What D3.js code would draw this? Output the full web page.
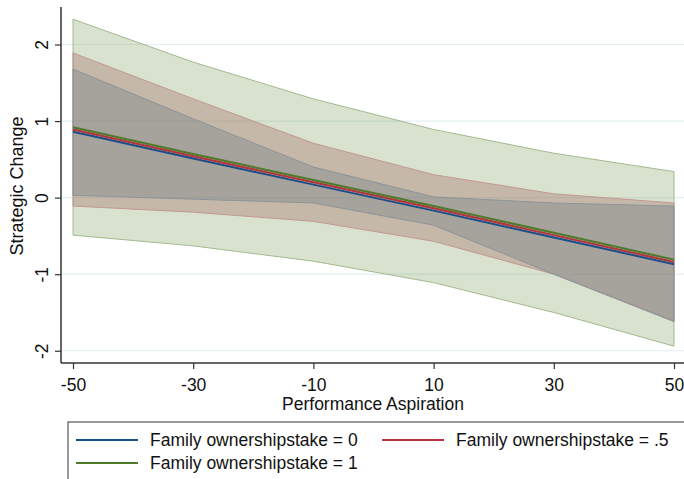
<!DOCTYPE html>
<html>
<head>
<meta charset="utf-8">
<script src="https://cdn.jsdelivr.net/npm/d3@7"></script>
<style>
  body { margin: 0; background: #fff; }
  svg { display: block; }
  svg text { font-family: "Liberation Sans", Arial, sans-serif; }
</style>
</head>
<body>
<svg id="chart" width="684" height="479"></svg>
<script>
// --- Data ---
const aspiration = [-50, -30, -10, 10, 30, 50];
const yTicks = [-2, -1, 0, 1, 2];

// predicted margins per family ownership stake
const fit0 = [0.86, 0.51, 0.17, -0.17, -0.52, -0.87];
const fit05 = [0.89, 0.54, 0.20, -0.14, -0.49, -0.84];
const fit1 = [0.92, 0.57, 0.23, -0.11, -0.46, -0.81];

// confidence bands
const lo0 = [0.03, -0.02, -0.07, -0.36, -1.0, -1.62];
const hi0 = [1.68, 1.03, 0.40, 0.01, -0.07, -0.11];
const lo05 = [-0.11, -0.19, -0.31, -0.57, -1.0, -1.61];
const hi05 = [1.89, 1.29, 0.71, 0.30, 0.05, -0.07];
const lo1 = [-0.49, -0.63, -0.83, -1.11, -1.5, -1.94];
const hi1 = [2.33, 1.77, 1.29, 0.89, 0.58, 0.34];

const seriesNames = [
	"Family ownershipstake = 0",
	"Family ownershipstake = .5",
	"Family ownershipstake = 1",
];

// -------------------------
// Setup
// -------------------------
const svg = d3.select("#chart");
const x = d3.scaleLinear().domain([-50, 50]).range([73, 674]);
const y = d3.scaleLinear().domain([-2.16, 2.49]).range([363, 7]);

const series = [
	{ name: seriesNames[0], fit: fit0, lo: lo0, hi: hi0, line: "#1a4f8a", fill: "#6f7d86", edge: "#8d959a" },
	{ name: seriesNames[1], fit: fit05, lo: lo05, hi: hi05, line: "#b5343d", fill: "#a46f66", edge: "#c39891" },
	{ name: seriesNames[2], fit: fit1, lo: lo1, hi: hi1, line: "#4f7a2a", fill: "#93b07a", edge: "#a3ba8f" },
];

// gridlines
svg.append("g")
	.selectAll("line")
	.data(yTicks)
	.enter()
	.append("line")
	.attr("x1", 61)
	.attr("x2", 684)
	.attr("y1", (d) => y(d))
	.attr("y2", (d) => y(d))
	.attr("stroke", "#e3eef1")
	.attr("stroke-width", 1.2);

// --- Bands: widest first ---
const area = d3.area()
	.x((d) => x(d.x))
	.y0((d) => y(d.lo))
	.y1((d) => y(d.hi));

series.slice().reverse().forEach((s) => {
	const pts = aspiration.map((a, i) => ({ x: a, lo: s.lo[i], hi: s.hi[i] }));
	svg.append("path")
		.datum(pts)
		.attr("d", area)
		.attr("fill", s.fill)
		.attr("fill-opacity", 0.36)
		.attr("stroke", s.edge)
		.attr("stroke-width", 1);
});

// --- Fit lines ---
const line = d3.line()
	.x((d) => x(d.x))
	.y((d) => y(d.v));

series.forEach((s) => {
	svg.append("path")
		.datum(aspiration.map((a, i) => ({ x: a, v: s.fit[i] })))
		.attr("d", line)
		.attr("fill", "none")
		.attr("stroke", s.line)
		.attr("stroke-width", 2);
});

// --- Axes ---
const fmt = (d) => String(d); // plain hyphen minus like the original

const yAxis = svg.append("g")
	.attr("transform", "translate(61,0)")
	.call(d3.axisLeft(y).tickValues(yTicks).tickSize(6).tickFormat(fmt));
yAxis.select(".domain").attr("d", "M0,7V363").attr("stroke", "#333").attr("stroke-width", 1.5);
yAxis.selectAll(".tick line").attr("stroke", "#333").attr("stroke-width", 1.2);
yAxis.selectAll(".tick text")
	.attr("x", 0)
	.attr("dy", 0)
	.attr("transform", "translate(-13,0) rotate(-90)")
	.attr("text-anchor", "middle")
	.style("font-size", "17.5px")
	.attr("fill", "#111");

const xAxis = svg.append("g")
	.attr("transform", "translate(0,363)")
	.call(d3.axisBottom(x).tickValues(aspiration).tickSize(6).tickPadding(10).tickFormat(fmt));
xAxis.select(".domain").attr("d", "M61,0H684").attr("stroke", "#333").attr("stroke-width", 1.5);
xAxis.selectAll(".tick line").attr("stroke", "#333").attr("stroke-width", 1.2);
xAxis.selectAll(".tick text").style("font-size", "17.5px").attr("fill", "#111");

// axis titles
svg.append("text")
	.attr("x", 373)
	.attr("y", 410)
	.attr("text-anchor", "middle")
	.style("font-size", "17.5px")
	.attr("fill", "#111")
	.text("Performance Aspiration");

svg.append("text")
	.attr("transform", "translate(23,186) rotate(-90)")
	.attr("text-anchor", "middle")
	.style("font-size", "18px")
	.attr("fill", "#111")
	.text("Strategic Change");

// --- Legend ---
svg.append("rect")
	.attr("x", 68)
	.attr("y", 422)
	.attr("width", 630)
	.attr("height", 70)
	.attr("fill", "#fff")
	.attr("stroke", "#555")
	.attr("stroke-width", 1.2);

const legendPos = [
	{ lx: 76, ty: 440 },
	{ lx: 382, ty: 440 },
	{ lx: 76, ty: 463 },
];

series.forEach((s, i) => {
	const p = legendPos[i];
	svg.append("line")
		.attr("x1", p.lx)
		.attr("x2", p.lx + 62)
		.attr("y1", p.ty)
		.attr("y2", p.ty)
		.attr("stroke", s.line)
		.attr("stroke-width", 2);
	svg.append("text")
		.attr("x", p.lx + 74)
		.attr("y", p.ty + 6)
		.style("font-size", "17.5px")
		.attr("fill", "#111")
		.text(s.name);
});
</script>
</body>
</html>
